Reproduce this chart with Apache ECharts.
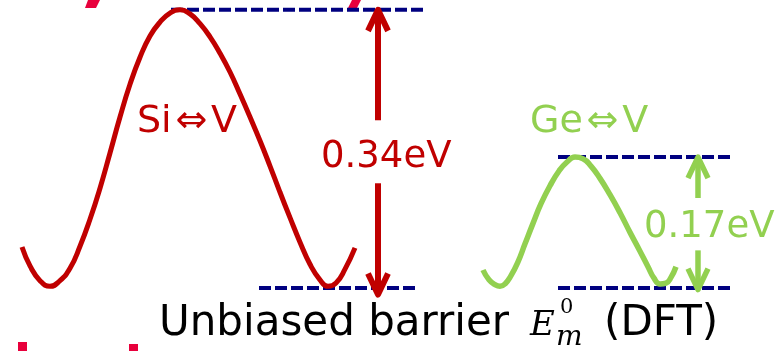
<!DOCTYPE html>
<html>
<head>
<meta charset="utf-8">
<script src="https://cdn.jsdelivr.net/npm/echarts@6/dist/echarts.min.js"></script>
<style>html,body{margin:0;padding:0;background:#fff;}#c{width:776px;height:351px;}</style>
</head>
<body>
<div id="c"></div>
<script>
// ---- data (x = reaction coordinate, arbitrary units; y = energy in eV) ----
const siX = [22,30,40,50,60,70,80,90,100,110,120,130,140,150,160,170,180,190,200,210,220,230,240,250,260,270,280,290,300,310,320,328,336,345,355];
const siE = [0.050,0.027,0.009,0.002,0.009,0.024,0.051,0.084,0.122,0.165,0.209,0.249,0.282,0.308,0.325,0.336,0.340,0.335,0.323,0.307,0.287,0.264,0.237,0.209,0.180,0.149,0.117,0.086,0.056,0.029,0.010,0.002,0.006,0.023,0.049];
const geX = [483,489,495,500,505,511,518,525,533,541,550,559,567,575,583,591,600,610,620,630,640,648,654,660,666,671,676];
const geE = [0.022,0.010,0.004,0.002,0.005,0.015,0.032,0.054,0.079,0.103,0.125,0.143,0.154,0.160,0.158,0.149,0.134,0.114,0.092,0.068,0.045,0.026,0.012,0.005,0.006,0.013,0.026];

const seriesNames = ['Si\u200A\u21D4\u200AV', 'Ge\u200A\u21D4\u200AV'];
const barrierLabels = ['0.34eV', '0.17eV'];
// level lines: [energy, xStart, xEnd]
const siLevels = [[0.34, 171, 425], [0.0, 259, 415]];
const geLevels = [[0.16, 558, 731], [0.0, 558, 731]];
// arrows: [x, shaftBase, tip]
const siArrows = [[378, 0.205, 0.340], [378, 0.128, -0.008]];
const geArrows = [[698, 0.110, 0.160], [698, 0.046, -0.002]];
const yRange = [-0.077, 0.352];

const RED = '#c00000', GREEN = '#92d050', NAVY = '#000080', PINK = '#e8003c';

function pts(xs, ys) { return xs.map((x, i) => [x, ys[i]]); }

const series = [];
function levelSeries(levels) {
  levels.forEach(l => series.push({
    type: 'line', data: [[l[1], l[0]], [l[2], l[0]]], showSymbol: false, silent: true,
    lineStyle: { color: NAVY, width: 4, type: [12, 4], cap: 'butt' }, z: 1
  }));
}
function arrowSeries(arrows, color, width) {
  const hw = 10, depth = 0.0257;
  arrows.forEach(a => {
    const dir = a[2] > a[1] ? 1 : -1;
    series.push({ type: 'line', data: [[a[0], a[1]], [a[0], a[2]]], showSymbol: false, silent: true,
      lineStyle: { color, width, cap: 'butt' }, z: 3 });
    series.push({ type: 'line', data: [[a[0] - hw, a[2] - dir * depth], [a[0], a[2]], [a[0] + hw, a[2] - dir * depth]],
      showSymbol: false, silent: true, lineStyle: { color, width, join: 'round', cap: 'butt' }, z: 3 });
  });
}
levelSeries(siLevels);
levelSeries(geLevels);
series.push({ name: seriesNames[0], type: 'line', data: pts(siX, siE), smooth: 0.5, showSymbol: false,
  lineStyle: { color: RED, width: 5 }, z: 2 });
series.push({ name: seriesNames[1], type: 'line', data: pts(geX, geE), smooth: 0.5, showSymbol: false,
  lineStyle: { color: GREEN, width: 5.5 }, z: 2 });
arrowSeries(siArrows, RED, 6);
arrowSeries(geArrows, GREEN, 5.5);

const FONT = '"DejaVu Sans", Verdana, sans-serif';
const SERIF = '"DejaVu Serif", serif';
function txt(x, y, text, size, color, family, fontStyle) {
  return { type: 'text', x, y, z: 10, silent: true,
    style: { text, fontSize: size, fontFamily: family || FONT, fontStyle: fontStyle || 'normal', fill: color, align: 'left', verticalAlign: 'middle' } };
}
function poly(points) {
  return { type: 'polygon', shape: { points }, style: { fill: PINK }, silent: true, z: 0 };
}

const option = {
  animation: false,
  backgroundColor: '#ffffff',
  grid: { left: 0, right: 0, top: 0, bottom: 0 },
  xAxis: { type: 'value', min: 0, max: 776, show: false },
  yAxis: { type: 'value', min: yRange[0], max: yRange[1], show: false },
  series,
  graphic: [
    poly([[88,0],[100,0],[96,8],[85,8]]),
    poly([[352,0],[361,0],[357,8],[348,8]]),
    poly([[18,342],[27,342],[27,351],[18,351]]),
    poly([[129,344],[138,344],[138,351],[129,351]]),
    txt(137, 122, seriesNames[0], 38, RED),
    txt(321, 157, barrierLabels[0], 37, RED),
    txt(530, 122, seriesNames[1], 38, GREEN),
    txt(644, 227, barrierLabels[1], 37, GREEN),
    txt(159, 324, 'Unbiased barrier', 42, '#000'),
    txt(530, 326, 'E', 34, '#000', SERIF, 'italic'),
    txt(556, 338, 'm', 28, '#000', SERIF, 'italic'),
    txt(560, 308, '0', 21, '#000', SERIF),
    txt(604, 324, '(DFT)', 42, '#000')
  ]
};
const chart = echarts.init(document.getElementById('c'), null, { renderer: 'canvas' });
chart.setOption(option);
</script>
</body>
</html>
